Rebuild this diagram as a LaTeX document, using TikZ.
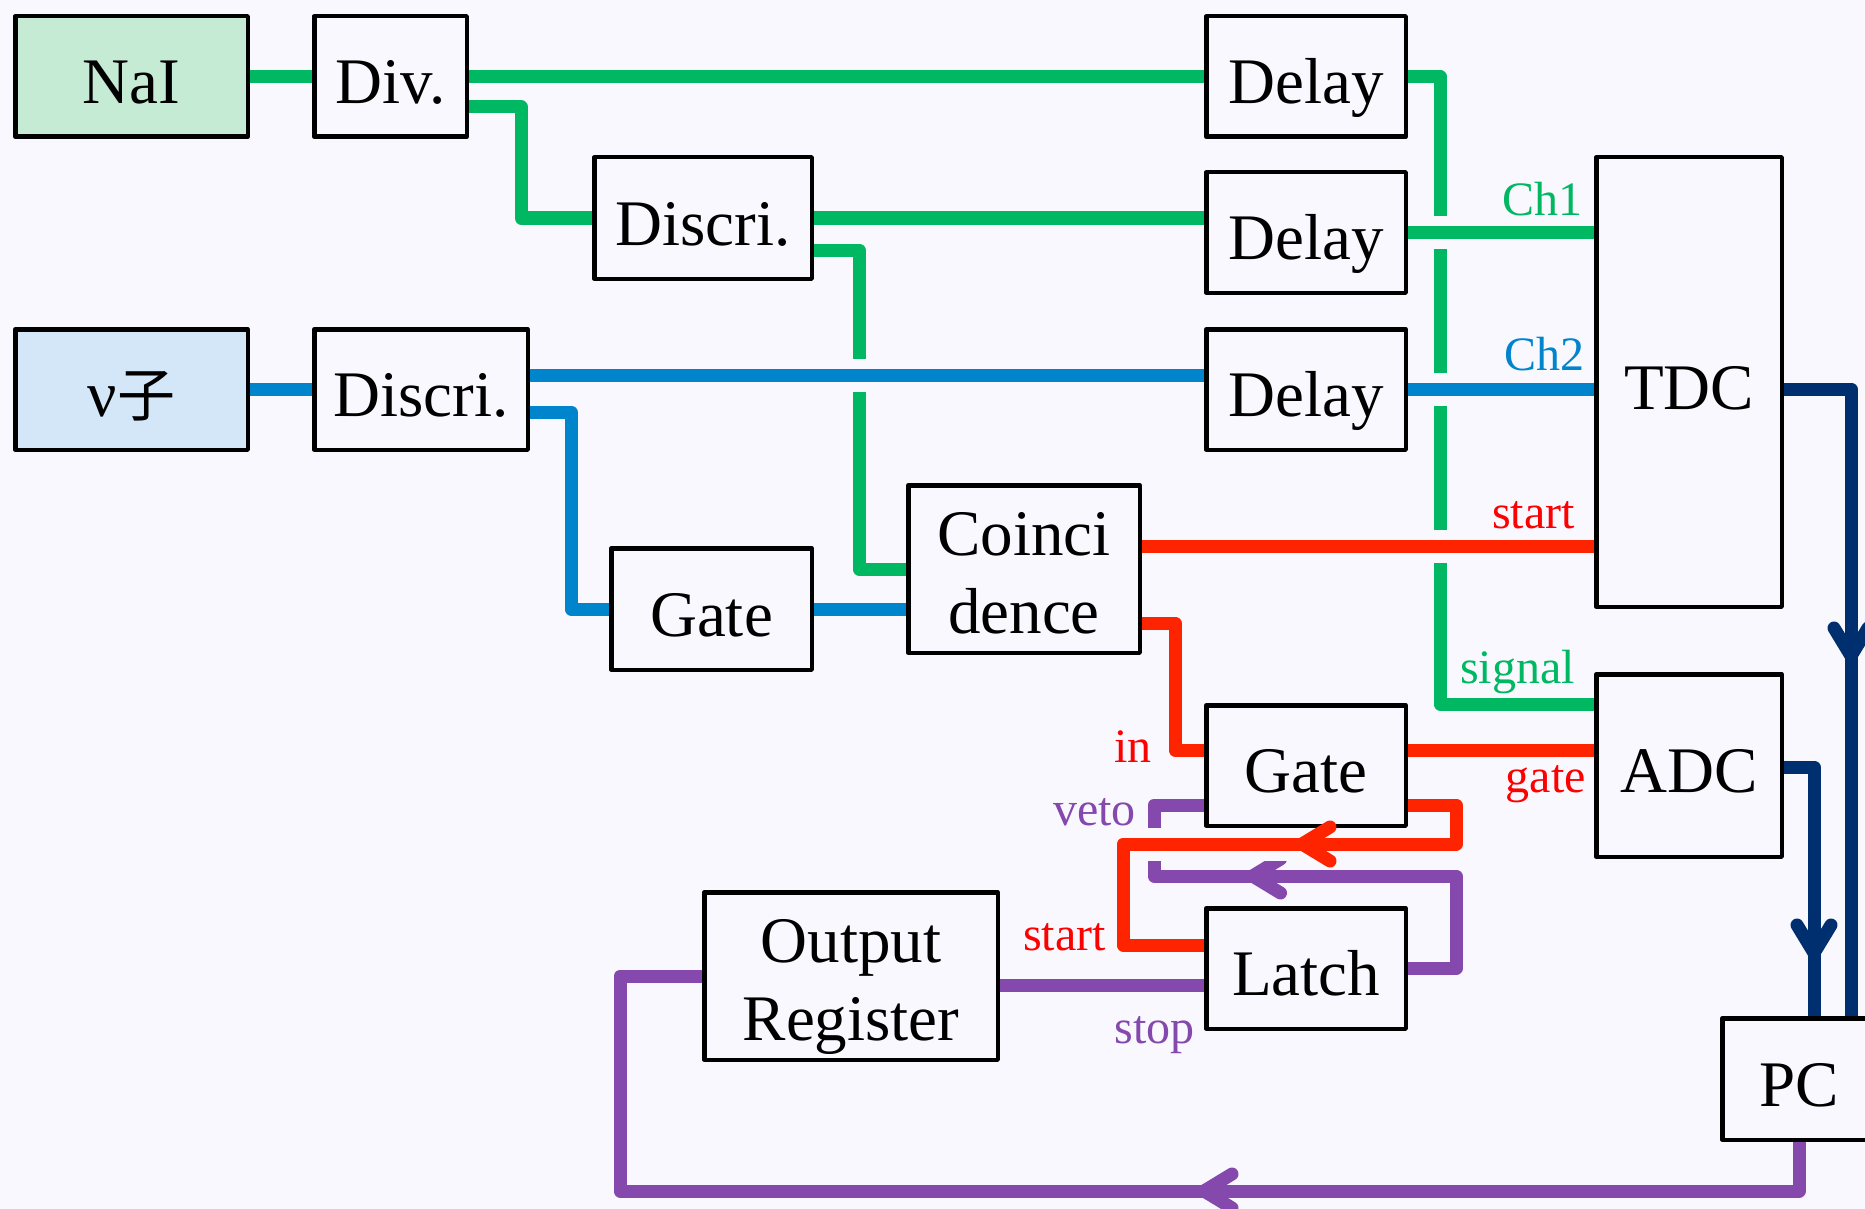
\documentclass[tikz,border=0pt]{standalone}
\usepackage{fontspec}
\setmainfont{Liberation Serif}
\newfontfamily\cjkfont{Noto Sans CJK SC}
\usetikzlibrary{decorations.markings}
\definecolor{bg}{HTML}{F8F8FE}
\definecolor{lgreen}{HTML}{00B862}
\definecolor{lblue}{HTML}{0084CC}
\definecolor{lred}{HTML}{FF2400}
\definecolor{tred}{HTML}{FF0000}
\definecolor{lpurple}{HTML}{8549AE}
\definecolor{lnavy}{HTML}{002F6F}
\definecolor{naifill}{HTML}{C6EBD5}
\definecolor{nufill}{HTML}{D3E7F8}
\begin{document}
\begin{tikzpicture}[x=1pt,y=-1pt,
  box/.style={draw=black,line width=4.5pt,fill=bg,line join=round,inner sep=0pt,align=center,font=\fontsize{65}{78}\selectfont,text height=54pt,text depth=0pt},
  boxtext/.style={inner sep=0pt,align=center,font=\fontsize{65}{78}\selectfont},
  wire/.style={line width=13pt,line join=round},
  gapped/.style={preaction={draw=bg,line width=33pt}},
  lab/.style={inner sep=0pt,font=\fontsize{48}{58}\selectfont},
  chev/.style 2 args={postaction={decorate,decoration={markings,mark=at position #1 with {\draw[#2,line width=13pt,line cap=round,line join=round] (-28,17) -- (0,0) -- (-28,-17);}}}}
]
\fill[bg] (0,0) rectangle (1865,1209);
\useasboundingbox (0,0) rectangle (1865,1209);

% boxes
\node[box,fill=naifill,minimum width=232.5pt,minimum height=120.5pt] (nai) at (131.5,76.5) {NaI};
\node[box,minimum width=152.5pt,minimum height=120.5pt] (div) at (390.5,76.5) {Div.};
\node[box,minimum width=199.5pt,minimum height=120.5pt] (dla) at (1306,76.5) {Delay};
\node[box,minimum width=217.5pt,minimum height=121.5pt] (dist) at (703,218) {Discri.};
\node[box,minimum width=199.5pt,minimum height=120.5pt] (dlb) at (1306,232.5) {Delay};
\node[box,minimum width=185.5pt,minimum height=449.5pt] (tdc) at (1689,382) {TDC};
\node[box,fill=nufill,minimum width=232.5pt,minimum height=120.5pt] (nu) at (131.5,389.5) {ν{\cjkfont\fontsize{58}{70}\selectfont 子}};
\node[box,minimum width=213.5pt,minimum height=120.5pt] (disb) at (421,389.5) {Discri.};
\node[box,minimum width=199.5pt,minimum height=120.5pt] (dlc) at (1306,389.5) {Delay};
\node[box,minimum width=200.5pt,minimum height=121.5pt] (gatet) at (711.5,609) {Gate};
\node[box,minimum width=231.5pt,minimum height=167.5pt] (coin) at (1024,569) {};
\node[boxtext] (coint) at ([yshift=-4.5pt]coin.center) {Coinci\\dence};
\node[box,minimum width=199.5pt,minimum height=120.5pt] (gateb) at (1306,765.5) {Gate};
\node[box,minimum width=185.5pt,minimum height=182.5pt] (adc) at (1689,765.5) {ADC};
\node[box,minimum width=293.5pt,minimum height=167.5pt] (outr) at (851,976) {};
\node[boxtext] (outrt) at ([yshift=-10.5pt]outr.center) {Output\\Register};
\node[box,minimum width=199.5pt,minimum height=120.5pt] (latch) at (1306,968.5) {Latch};
\node[box,minimum width=153.5pt,minimum height=121.5pt] (pc) at (1799,1079) {PC};

% green
\draw[wire,lgreen] (nai.east) -- (div.west);
\draw[wire,lgreen] (div.east) -- (dla.west);
\draw[wire,lgreen] ([yshift=-30.5pt]div.east) -- ++(52,0) |- (dist.west);
\draw[wire,lgreen] (dist.east) -- (dist.east -| dlb.west);
\draw[wire,lgreen] ([yshift=-32pt]dist.east) -- ++(45,0) |- (coin.west);
\draw[wire,lgreen] (dla.east) -- ++(32,0) |- ([yshift=61.5pt]adc.west);
\draw[wire,lgreen,gapped] (dlb.east) -- (dlb.east -| tdc.west);

% blue
\draw[wire,lblue] (nu.east) -- (disb.west);
\draw[wire,lblue,gapped] ([yshift=14.5pt]disb.east) -- ([yshift=14.5pt]disb.east -| dlc.west);
\draw[wire,lblue] ([yshift=-22.5pt]disb.east) -- ++(41,0) |- (gatet.west);
\draw[wire,lblue] (gatet.east) -- (gatet.east -| coin.west);
\draw[wire,lblue,gapped] (dlc.east) -- (dlc.east -| tdc.west);

% red
\draw[wire,lred,gapped] ([yshift=23pt]coin.east) -- ([yshift=23pt]coin.east -| tdc.west);
\draw[wire,lred] ([yshift=-54pt]coin.east) -- ++(33,0) |- ([yshift=15.5pt]gateb.west);
\draw[wire,lred] ([yshift=15.5pt]gateb.east) -- ([yshift=15.5pt]gateb.east -| adc.west);

% purple loop (drawn first, red crosses over)
\draw[wire,lpurple,chev={344pt}{lpurple}] (latch.east) -- ++(48,0) -- ++(0,-92.5) -- ++(-302,0) |- ([yshift=-39.5pt]gateb.west);
\draw[wire,lred,gapped,chev={241pt}{lred}] ([yshift=-39.5pt]gateb.east) -- ++(48,0) -- ++(0,39) -- ++(-333,0) |- ([yshift=23.5pt]latch.west);
\draw[wire,lpurple] ([yshift=-16.5pt]latch.west) -- ([yshift=-16.5pt]latch.west -| outr.east);
\draw[wire,lpurple,chev={644pt}{lpurple}] (pc.south) -- ++(0,49) -- ++(-1179,0) |- (outr.west);

% navy
\draw[wire,lnavy,chev={334pt}{lnavy}] ([yshift=-7pt]tdc.east) -| ([xshift=52pt]pc.north);
\draw[wire,lnavy,chev={216pt}{lnavy}] ([yshift=-1.5pt]adc.east) -| ([xshift=15pt]pc.north);

% labels
\node[lab,text=lgreen,anchor=base east] (lch1) at (1583,215) {Ch1};
\node[lab,text=lblue,anchor=base east] (lch2) at (1585,370) {Ch2};
\node[lab,text=tred,anchor=base east] (lstart1) at (1575,528) {start};
\node[lab,text=lgreen,anchor=base east] (lsignal) at (1575,683) {signal};
\node[lab,text=tred,anchor=base east] (lgate) at (1586,792) {gate};
\node[lab,text=tred,anchor=base east] (lin) at (1152,762) {in};
\node[lab,text=lpurple,anchor=base east] (lveto) at (1136,825) {veto};
\node[lab,text=tred,anchor=base east] (lstart2) at (1106,950) {start};
\node[lab,text=lpurple,anchor=base east] (lstop) at (1195,1043) {stop};
\end{tikzpicture}
\end{document}
